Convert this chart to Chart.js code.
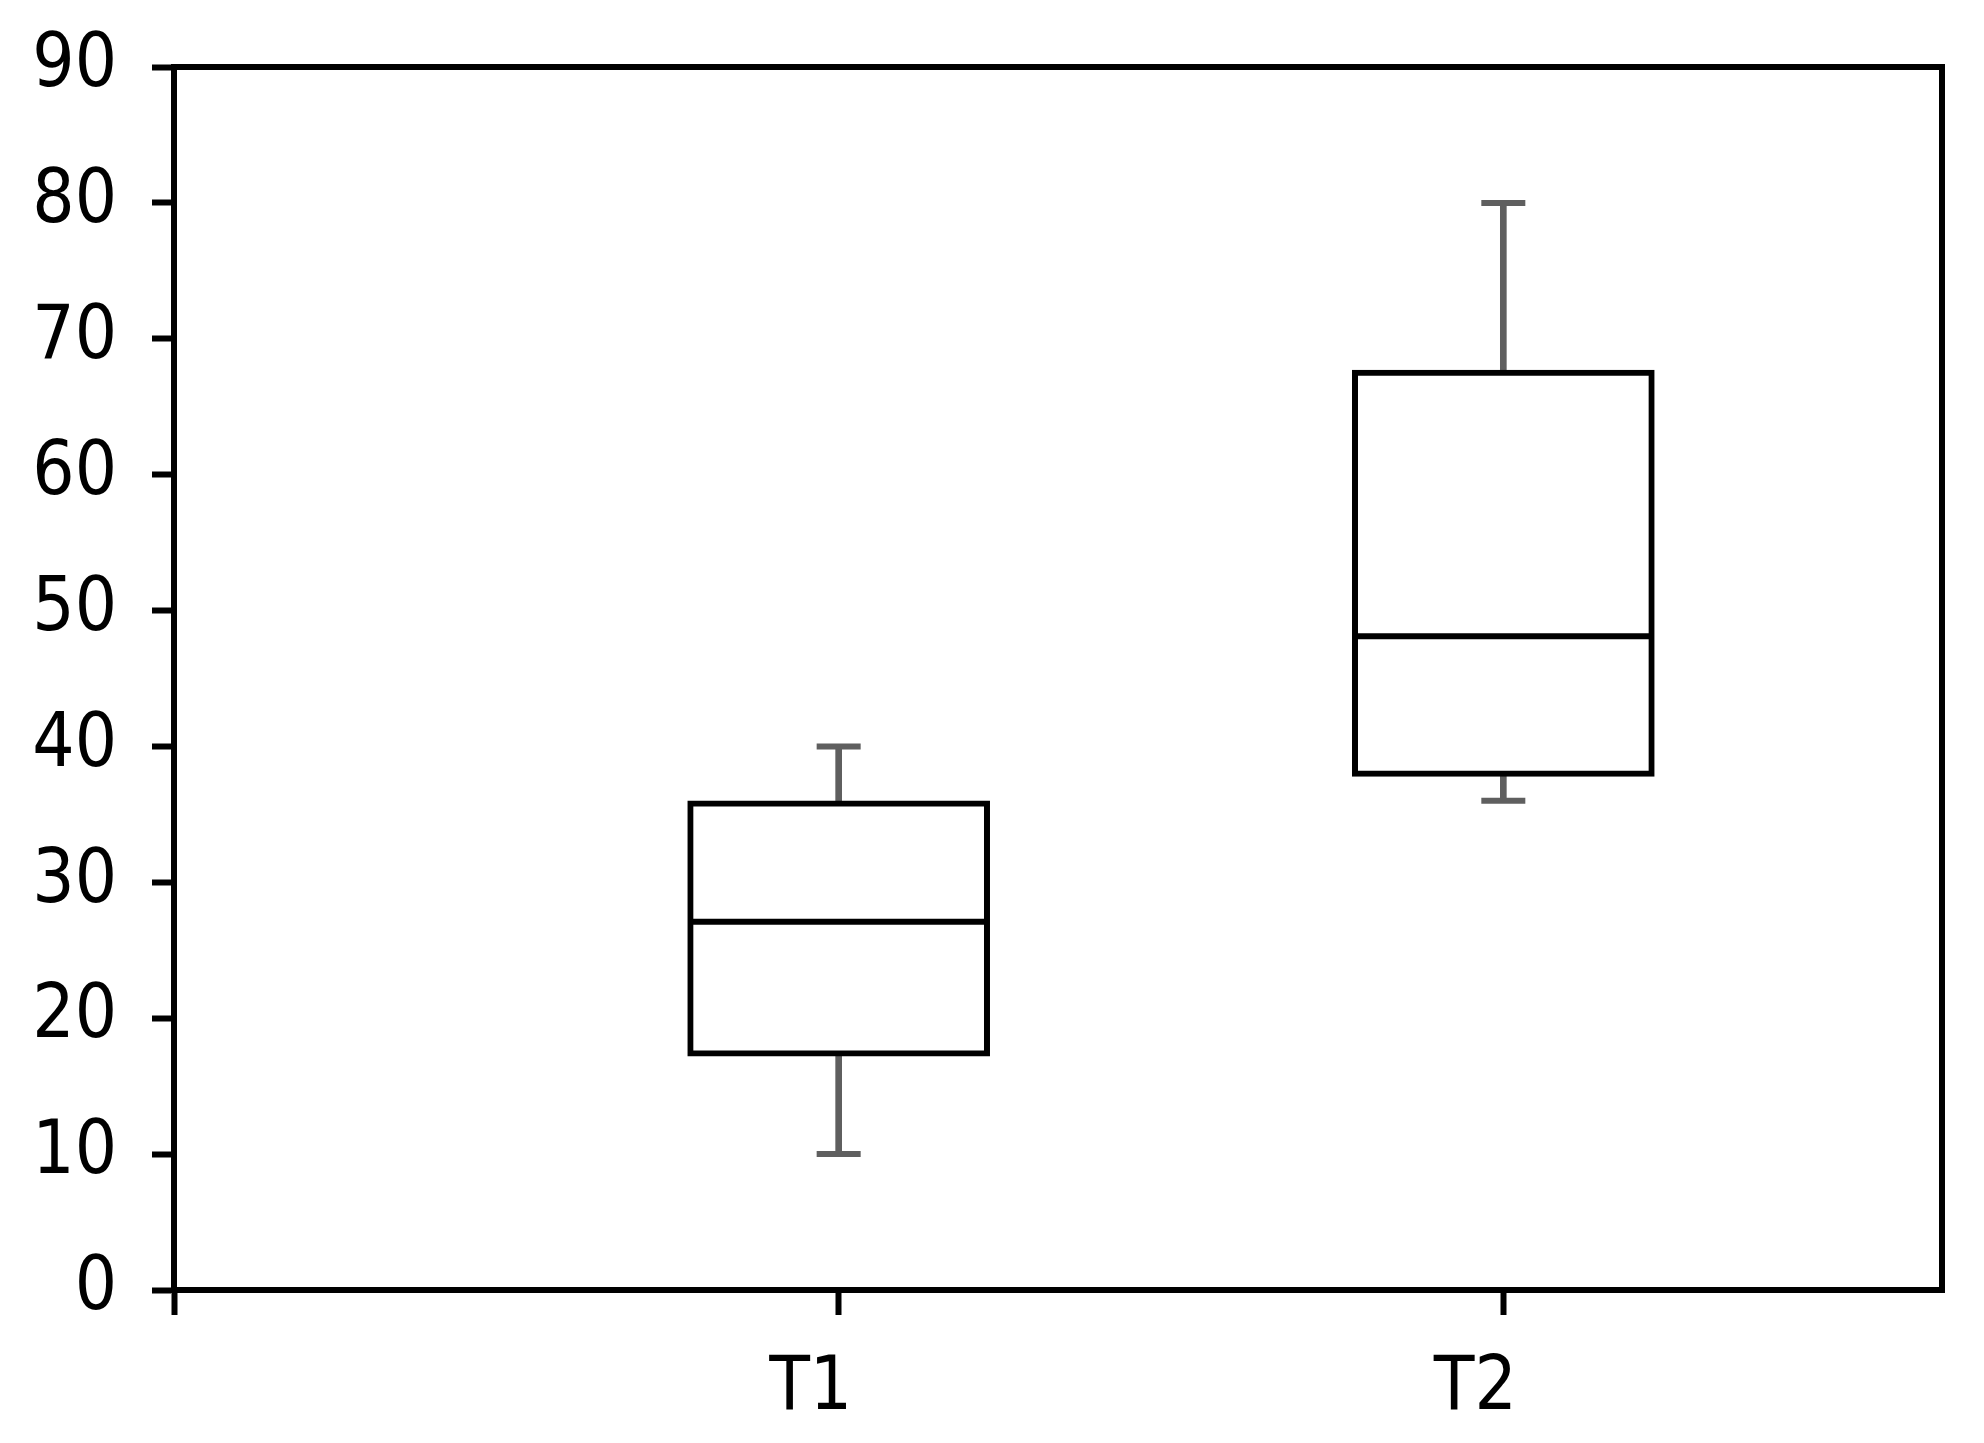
<!DOCTYPE html>
<html>
<head>
<meta charset="utf-8">
<script src="https://cdn.jsdelivr.net/npm/chart.js@4/dist/chart.umd.min.js"></script>
<style>
  body { margin: 0; background: #fff; }
  #wrap { width: 1984px; height: 1443px; }
</style>
</head>
<body>
<div id="wrap"><canvas id="box" width="1984" height="1443"></canvas></div>
<script>
// categories and box statistics
const categories = ['T1', 'T2'];
const mins = [10, 36];
const q1s = [17.2, 37.8];
const medians = [27.1, 48.1];
const q3s = [36, 67.7];
const maxs = [40, 80];
const yTicks = [0, 10, 20, 30, 40, 50, 60, 70, 80, 90];

const pos = categories.map((c, i) => i + 1);

const boxes = pos.map((x, i) => ({ x: x, y: [q1s[i], q3s[i]] }));
const whiskers = [];
pos.forEach((x, i) => {
    whiskers.push({ x: x, y: [mins[i], q1s[i]] });
    whiskers.push({ x: x, y: [q3s[i], maxs[i]] });
});
const caps = [];
pos.forEach((x, i) => {
    caps.push({ x: x, y: mins[i] });
    caps.push({ x: x, y: maxs[i] });
});
const medianPts = pos.map((x, i) => ({ x: x, y: medians[i] }));

// top and right edges of the frame
const framePlugin = {
    id: 'frame',
    afterDraw(chart) {
        const a = chart.chartArea;
        const ctx = chart.ctx;
        ctx.save();
        ctx.strokeStyle = '#000';
        ctx.lineWidth = 6;
        ctx.strokeRect(a.left, a.top, a.right - a.left, a.bottom - a.top);
        ctx.restore();
    }
};

const tickFont = { family: '"DejaVu Sans Condensed", "DejaVu Sans", sans-serif', size: 74 };

new Chart(document.getElementById('box'), {
    type: 'bar',
    data: {
        datasets: [
            {
                type: 'scatter',
                data: medianPts,
                pointStyle: 'line',
                pointRadius: 149,
                borderColor: '#000',
                borderWidth: 6,
                order: 0
            },
            {
                type: 'scatter',
                data: caps,
                pointStyle: 'line',
                pointRadius: 22,
                borderColor: '#5f5f5f',
                borderWidth: 6,
                order: 1
            },
            {
                data: boxes,
                backgroundColor: '#fff',
                borderColor: '#000',
                borderWidth: 6,
                borderSkipped: false,
                barThickness: 302,
                grouped: false,
                order: 2
            },
            {
                data: whiskers,
                backgroundColor: '#5f5f5f',
                borderWidth: 0,
                barThickness: 6,
                grouped: false,
                order: 3
            }
        ]
    },
    options: {
        responsive: false,
        animation: false,
        layout: { autoPadding: false, padding: { top: 67, right: 42, left: 0, bottom: 0 } },
        plugins: {
            legend: { display: false },
            tooltip: { enabled: false }
        },
        scales: {
            x: {
                type: 'linear',
                min: 0,
                max: 2.66,
                offset: false,
                afterFit: (s) => {
                    s.height = 153;
                    s.paddingLeft = 0;
                    s.paddingRight = 0;
                },
                border: { display: true, color: '#000', width: 6 },
                grid: {
                    offset: false,
                    drawOnChartArea: false,
                    drawTicks: true,
                    tickLength: 25,
                    tickWidth: 6,
                    tickColor: '#000'
                },
                ticks: {
                    stepSize: 1,
                    includeBounds: false,
                    autoSkip: false,
                    maxRotation: 0,
                    padding: 30,
                    labelOffset: -28,
                    color: '#000',
                    font: tickFont,
                    callback: (v) => categories[v - 1] || ''
                }
            },
            y: {
                min: yTicks[0],
                max: yTicks[yTicks.length - 1],
                afterFit: (s) => {
                    s.width = 174;
                    s.paddingTop = 0;
                    s.paddingBottom = 0;
                },
                border: { display: true, color: '#000', width: 6 },
                grid: {
                    drawOnChartArea: false,
                    drawTicks: true,
                    tickLength: 22,
                    tickWidth: 6,
                    tickColor: '#000'
                },
                ticks: {
                    stepSize: 10,
                    padding: 35,
                    color: '#000',
                    font: tickFont
                }
            }
        }
    },
    plugins: [framePlugin]
});
</script>
</body>
</html>
